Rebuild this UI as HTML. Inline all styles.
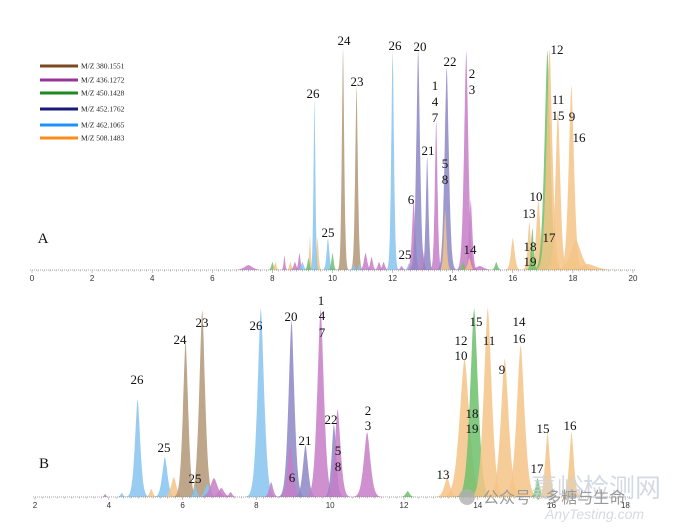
<!DOCTYPE html>
<html><head><meta charset="utf-8">
<style>
html,body{margin:0;padding:0;background:#fff;}
svg{display:block;}
.lb{font-family:"Liberation Serif",serif;font-size:13px;fill:#111;text-anchor:middle;}
.tk{font-family:"Liberation Sans",sans-serif;font-size:8px;fill:#333;text-anchor:middle;}
.lg{font-family:"Liberation Serif",serif;font-size:7.5px;fill:#222;}
</style></head>
<body>
<svg id="s" width="680" height="529" viewBox="0 0 680 529" xmlns="http://www.w3.org/2000/svg">
<g id="peaks"></g>
<g id="axes"></g>
<g stroke-width="3">
<line x1="40" y1="66" x2="78" y2="66" stroke="#7a4a22"/>
<line x1="40" y1="80" x2="78" y2="80" stroke="#993399"/>
<line x1="40" y1="93" x2="78" y2="93" stroke="#1f8a1f"/>
<line x1="40" y1="109" x2="78" y2="109" stroke="#1a1a7a"/>
<line x1="40" y1="125" x2="78" y2="125" stroke="#1e90ff"/>
<line x1="40" y1="138" x2="78" y2="138" stroke="#ff8c1a"/>
</g>
<text class="lg" x="81" y="68.5">M/Z 380.1551</text>
<text class="lg" x="81" y="82.5">M/Z 436.1272</text>
<text class="lg" x="81" y="95.5">M/Z 450.1428</text>
<text class="lg" x="81" y="111.5">M/Z 452.1762</text>
<text class="lg" x="81" y="127.5">M/Z 462.1065</text>
<text class="lg" x="81" y="140.5">M/Z 508.1483</text>
<text class="lb" x="43" y="243" style="font-size:15px">A</text>
<text class="lb" x="313" y="98">26</text>
<text class="lb" x="344" y="45">24</text>
<text class="lb" x="357" y="86">23</text>
<text class="lb" x="328" y="237">25</text>
<text class="lb" x="395" y="50">26</text>
<text class="lb" x="420" y="51">20</text>
<text class="lb" x="450" y="66">22</text>
<text class="lb" x="472" y="78">2</text>
<text class="lb" x="472" y="94">3</text>
<text class="lb" x="435" y="90">1</text>
<text class="lb" x="435" y="106">4</text>
<text class="lb" x="435" y="122">7</text>
<text class="lb" x="428" y="155">21</text>
<text class="lb" x="445" y="168">5</text>
<text class="lb" x="445" y="184">8</text>
<text class="lb" x="411" y="204">6</text>
<text class="lb" x="405" y="259">25</text>
<text class="lb" x="470" y="254">14</text>
<text class="lb" x="557" y="54">12</text>
<text class="lb" x="558" y="104">11</text>
<text class="lb" x="558" y="120">15</text>
<text class="lb" x="572" y="121">9</text>
<text class="lb" x="579" y="142">16</text>
<text class="lb" x="536" y="201">10</text>
<text class="lb" x="529" y="218">13</text>
<text class="lb" x="549" y="242">17</text>
<text class="lb" x="530" y="251">18</text>
<text class="lb" x="530" y="266">19</text>
<text class="lb" x="44" y="468" style="font-size:15px">B</text>
<text class="lb" x="137" y="384">26</text>
<text class="lb" x="164" y="452">25</text>
<text class="lb" x="180" y="344">24</text>
<text class="lb" x="202" y="327">23</text>
<text class="lb" x="195" y="483">25</text>
<text class="lb" x="256" y="330">26</text>
<text class="lb" x="291" y="321">20</text>
<text class="lb" x="321" y="305">1</text>
<text class="lb" x="322" y="320">4</text>
<text class="lb" x="322" y="337">7</text>
<text class="lb" x="305" y="445">21</text>
<text class="lb" x="292" y="482">6</text>
<text class="lb" x="331" y="424">22</text>
<text class="lb" x="338" y="455">5</text>
<text class="lb" x="338" y="471">8</text>
<text class="lb" x="368" y="415">2</text>
<text class="lb" x="368" y="430">3</text>
<text class="lb" x="443" y="479">13</text>
<text class="lb" x="461" y="345">12</text>
<text class="lb" x="461" y="360">10</text>
<text class="lb" x="476" y="326">15</text>
<text class="lb" x="472" y="418">18</text>
<text class="lb" x="472" y="433">19</text>
<text class="lb" x="489" y="345">11</text>
<text class="lb" x="502" y="374">9</text>
<text class="lb" x="519" y="326">14</text>
<text class="lb" x="519" y="343">16</text>
<text class="lb" x="537" y="473">17</text>
<text class="lb" x="543" y="433">15</text>
<text class="lb" x="570" y="430">16</text>
<text x="531" y="497" style="font-family:'Liberation Sans','Noto Sans CJK SC',sans-serif;font-size:26px;fill:#c9d2dc;opacity:0.8">嘉峪检测网</text>
<circle cx="467" cy="497" r="8" fill="#b0b0b0" opacity="0.8"/>
<text x="483" y="503" style="font-family:'Liberation Sans','Noto Sans CJK SC',sans-serif;font-size:16px;fill:#999">公众号 · 多糖与生命</text>
<text x="545" y="519" style="font-family:'Liberation Sans',sans-serif;font-style:italic;font-size:14px;fill:#d5dbe2">AnyTesting.com</text>
</svg>
<script>
var C={br:"#b39675",pu:"#c77cc7",gr:"#6cbf6c",nv:"#8c86c6",bl:"#86c4ee",or:"#f5c487"};
var g=document.getElementById('peaks'),ax=document.getElementById('axes');
var NS="http://www.w3.org/2000/svg";
function peak(X,base,t,top,col,w,op){
  w=w*1.5;
  var d="M"+X(t-4*w).toFixed(1)+" "+base;
  for(var i=-40;i<=40;i++){var dt=i*w/10;var f=Math.exp(-Math.pow(Math.abs(dt)/w,1.6)*1.3);
    d+=" L"+X(t+dt).toFixed(1)+" "+(base-(base-top)*f).toFixed(1);}
  d+=" L"+X(t+4*w).toFixed(1)+" "+base+"Z";
  var p=document.createElementNS(NS,"path");p.setAttribute("d",d);p.setAttribute("fill",C[col]);
  p.setAttribute("fill-opacity",op||0.85);g.appendChild(p);
}
var XA=function(t){return 32+t*30.05;},BA=270;
var A=[[7.2,265,"pu",0.15],[8.0,262,"gr",0.04],[8.1,262,"or",0.04],[8.4,256,"pu",0.03],[8.6,262,"or",0.04],[8.9,253,"pu",0.04],[8.75,262,"pu",0.05],[9.25,236,"or",0.03],[9.0,262,"bl",0.05],[9.2,258,"gr",0.04],[9.5,238,"or",0.04],[9.4,98,"bl",0.035],[9.85,238,"bl",0.05],[10.0,253,"gr",0.04],[10.35,48,"br",0.045],[10.8,87,"br",0.05],[10.7,264,"bl",0.04],[10.9,264,"bl",0.04],
[11.1,253,"pu",0.06],[11.3,257,"pu",0.05],[11.55,262,"pu",0.05],[11.7,262,"pu",0.05],[12.0,50,"bl",0.05],[12.3,266,"pu",0.05],[12.55,263,"bl",0.05],[12.7,200,"pu",0.06],[12.85,50,"nv",0.07],[13.0,250,"pu",0.05],[13.15,157,"nv",0.05],[13.45,120,"pu",0.05],[13.8,67,"nv",0.08],[13.75,210,"or",0.05],[14.45,50,"pu",0.08],[14.6,200,"pu",0.06],[14.35,262,"gr",0.05],[14.55,258,"or",0.06],[14.9,266,"pu",0.15],
[15.45,262,"gr",0.05],[16.0,238,"or",0.07],[16.55,222,"or",0.06],[16.85,200,"or",0.08],[16.65,228,"gr",0.05],[17.15,50,"gr",0.11],[17.22,48,"or",0.11],[17.5,110,"or",0.09],[17.95,85,"or",0.1],[18.1,240,"or",0.2],[18.5,264,"or",0.3]];
A.forEach(function(a){peak(XA,BA,a[0],a[1],a[2],a[3]);});
var XB=function(t){return 35+(t-2)*36.9;},BB=497;
var B=[[3.9,494,"pu",0.03],[4.35,493,"bl",0.04],[4.78,399,"bl",0.08],[5.15,489,"or",0.05],[5.52,457,"bl",0.08],[5.76,477,"or",0.08],[6.08,341,"br",0.08],[6.53,310,"br",0.09],[6.34,486,"bl",0.05],[6.67,484,"bl",0.08],[6.85,478,"pu",0.11],[7.05,488,"pu",0.09],[7.3,492,"pu",0.05],
[8.12,308,"bl",0.1],[8.4,482,"pu",0.06],[8.95,320,"nv",0.09],[8.92,445,"pu",0.08],[9.33,445,"nv",0.08],[9.74,308,"pu",0.1],[10.1,424,"nv",0.07],[10.2,409,"pu",0.09],[11.0,432,"pu",0.1],[12.1,491,"gr",0.06],
[13.17,478,"or",0.09],[13.64,358,"or",0.15],[13.9,308,"gr",0.12],[14.27,307,"or",0.12],[14.73,358,"or",0.12],[15.16,345,"or",0.12],[15.62,478,"gr",0.06],[15.89,432,"or",0.07],[16.54,432,"or",0.07]];
B.forEach(function(a){peak(XB,BB,a[0],a[1],a[2],a[3]);});
function axis(X,base,t0,t1,step,x0,x1){
  var l=document.createElementNS(NS,"line");l.setAttribute("x1",x0);l.setAttribute("x2",x1);l.setAttribute("y1",base);l.setAttribute("y2",base);
  l.setAttribute("stroke","#888");l.setAttribute("stroke-width","0.8");l.setAttribute("stroke-dasharray","1 1");ax.appendChild(l);
  for(var t=t0;t<=t1+1e-6;t+=0.2){var m=document.createElementNS(NS,"line");var x=X(t);m.setAttribute("x1",x);m.setAttribute("x2",x);m.setAttribute("y1",base);m.setAttribute("y2",base+(Math.abs(t/step-Math.round(t/step))<0.01?3:1.5));m.setAttribute("stroke","#888");m.setAttribute("stroke-width","0.5");ax.appendChild(m);}
  for(var t=t0;t<=t1;t+=step){var tx=document.createElementNS(NS,"text");tx.setAttribute("class","tk");tx.setAttribute("x",X(t));tx.setAttribute("y",base+11);tx.textContent=t;ax.appendChild(tx);}
}
axis(XA,BA,0,20,2,30,635);
axis(XB,BB,2,18,2,33,630);
</script>
</body></html>
